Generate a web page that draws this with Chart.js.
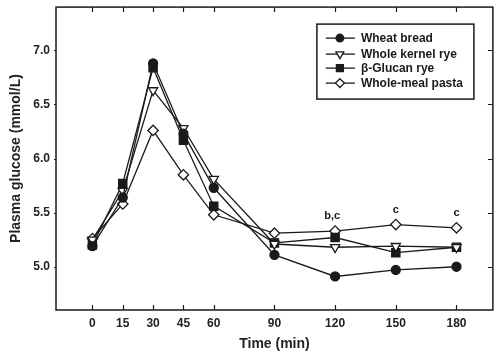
<!DOCTYPE html>
<html>
<head>
<meta charset="utf-8">
<script src="https://cdn.jsdelivr.net/npm/chart.js@4"></script>
<style>
html,body{margin:0;padding:0;background:#fff;}
#wrap{width:500px;height:357px;position:relative;}
</style>
</head>
<body>
<div id="wrap"><canvas id="c" width="500" height="357"></canvas></div>
<script>
// ---- data ----
const times = [0, 15, 30, 45, 60, 90, 120, 150, 180];
const wheatBread     = [5.19, 5.64, 6.88, 6.23, 5.73, 5.11, 4.91, 4.97, 5.00];
const wholeKernelRye = [5.25, 5.70, 6.63, 6.28, 5.81, 5.21, 5.18, 5.19, 5.18];
const betaGlucanRye  = [5.20, 5.77, 6.84, 6.17, 5.56, 5.22, 5.27, 5.13, 5.18];
const wholeMealPasta = [5.26, 5.58, 6.26, 5.85, 5.48, 5.31, 5.33, 5.39, 5.36];
const seriesNames = ['Wheat bread', 'Whole kernel rye', '\u03B2-Glucan rye', 'Whole-meal pasta'];
const xTickValues = [0, 15, 30, 45, 60, 90, 120, 150, 180];
const yTickValues = [5.0, 5.5, 6.0, 6.5, 7.0];
const sigTimes = [120, 150, 180];
const sigLabels = ['b,c', 'c', 'c'];

const FONT = "'Liberation Sans', Arial, sans-serif";
const INK = '#1a1a1a';

const styles = [
  {pointStyle:'circle', radius:4.5, fill:INK, rot:0},
  {pointStyle:'triangle', radius:5.3, fill:'#fff', rot:180},
  {pointStyle:'rect', radius:5.8, fill:INK, rot:0},
  {pointStyle:'rectRot', radius:5.2, fill:'#fff', rot:0}
];
const allSeries = [wheatBread, wholeKernelRye, betaGlucanRye, wholeMealPasta];

const datasets = allSeries.map((vals, i) => ({
  label: seriesNames[i],
  data: times.map((t, k) => ({x: t, y: vals[k]})),
  borderColor: INK,
  borderWidth: 1.3,
  backgroundColor: styles[i].fill,
  pointStyle: styles[i].pointStyle,
  pointRadius: styles[i].radius,
  pointHoverRadius: styles[i].radius,
  pointRotation: styles[i].rot,
  pointBorderColor: INK,
  pointBackgroundColor: styles[i].fill,
  pointBorderWidth: 1.3,
  tension: 0,
  fill: false,
  order: i
}));

function drawMarker(ctx, style, x, y) {
  ctx.save();
  ctx.lineWidth = 1.3;
  ctx.strokeStyle = INK;
  ctx.fillStyle = style.fill;
  const r = style.radius;
  ctx.beginPath();
  if (style.pointStyle === 'circle') {
    ctx.arc(x, y, r, 0, Math.PI * 2);
  } else if (style.pointStyle === 'triangle') {
    ctx.moveTo(x - r * 0.87, y - r * 0.5);
    ctx.lineTo(x + r * 0.87, y - r * 0.5);
    ctx.lineTo(x, y + r);
    ctx.closePath();
  } else if (style.pointStyle === 'rect') {
    const s = r * Math.SQRT1_2;
    ctx.rect(x - s, y - s, 2 * s, 2 * s);
  } else {
    ctx.moveTo(x, y - r); ctx.lineTo(x + r, y); ctx.lineTo(x, y + r); ctx.lineTo(x - r, y); ctx.closePath();
  }
  ctx.fill();
  ctx.stroke();
  ctx.restore();
}

const framePlugin = {
  id: 'frame',
  afterDatasetsDraw(chart) {
    const {ctx, chartArea: a, scales} = chart;
    const xs = scales.x, ys = scales.y;
    ctx.save();
    ctx.strokeStyle = INK;
    ctx.lineWidth = 1.5;
    ctx.strokeRect(a.left, a.top, a.right - a.left, a.bottom - a.top);
    ctx.lineWidth = 1.2;
    ctx.beginPath();
    xTickValues.forEach(v => {
      const px = Math.round(xs.getPixelForValue(v)) + 0.5;
      ctx.moveTo(px, a.bottom); ctx.lineTo(px, a.bottom - 5);
      ctx.moveTo(px, a.top); ctx.lineTo(px, a.top + 5);
    });
    yTickValues.forEach(v => {
      const py = Math.round(ys.getPixelForValue(v)) + 0.5;
      ctx.moveTo(a.right, py); ctx.lineTo(a.right - 5, py);
      ctx.moveTo(a.left, py); ctx.lineTo(a.left - 2, py);
    });
    ctx.stroke();

    // significance labels, placed above the highest point at that time
    ctx.fillStyle = INK;
    ctx.font = "bold 11px " + FONT;
    ctx.textAlign = 'center';
    ctx.textBaseline = 'middle';
    sigTimes.forEach((t, i) => {
      const k = times.indexOf(t);
      const top = Math.max(...allSeries.map(s => s[k]));
      const px = xs.getPixelForValue(t) - (sigLabels[i].length > 1 ? 3 : 0);
      const py = ys.getPixelForValue(top) - 15;
      ctx.fillText(sigLabels[i], px, py);
    });

    // legend box
    const bx = a.right - 176, by = a.top + 17, bw = 157, bh = 75;
    ctx.lineWidth = 1.5;
    ctx.fillStyle = '#fff';
    ctx.fillRect(bx, by, bw, bh);
    ctx.strokeRect(bx, by, bw, bh);
    ctx.font = "bold 12px " + FONT;
    ctx.textAlign = 'left';
    ctx.textBaseline = 'middle';
    const rowY = [14, 30, 44, 59];
    seriesNames.forEach((name, i) => {
      const y = by + rowY[i];
      ctx.lineWidth = 1.3;
      ctx.beginPath();
      ctx.moveTo(bx + 9, y); ctx.lineTo(bx + 38, y);
      ctx.stroke();
      const st = Object.assign({}, styles[i], {radius: styles[i].radius * 0.85});
      drawMarker(ctx, st, bx + 23, y);
      ctx.fillStyle = INK;
      ctx.fillText(name, bx + 44, y + 0.5);
    });
    ctx.restore();
  }
};

new Chart(document.getElementById('c'), {
  type: 'line',
  data: {datasets},
  options: {
    responsive: false,
    animation: false,
    events: [],
    layout: {padding: {left: 0, top: 3, right: 5, bottom: 0}},
    plugins: {legend: {display: false}, tooltip: {enabled: false}},
    scales: {
      x: {
        type: 'linear',
        min: -18, max: 198,
        afterBuildTicks: s => { s.ticks = xTickValues.map(v => ({value: v})); },
        afterFit: s => { s.height = 47; s.paddingLeft = 0; s.paddingRight = 0; },
        grid: {display: false, drawTicks: false},
        border: {display: false},
        ticks: {color: '#222', font: {family: FONT, size: 12, weight: 'bold'}, padding: 6, maxRotation: 0,
                callback: v => String(v)},
        title: {display: true, text: 'Time (min)', color: '#222',
                font: {family: FONT, size: 14, weight: 'bold'}, padding: {top: 0, bottom: 4}}
      },
      y: {
        type: 'linear',
        min: 4.6, max: 7.4,
        afterBuildTicks: s => { s.ticks = yTickValues.map(v => ({value: v})); },
        afterFit: s => { s.width = 56; s.paddingTop = 0; s.paddingBottom = 0; },
        grid: {display: false, drawTicks: false},
        border: {display: false},
        ticks: {color: '#222', font: {family: FONT, size: 12, weight: 'bold'}, padding: 6,
                callback: v => Number(v).toFixed(1)},
        title: {display: true, text: 'Plasma glucose (mmol/L)', color: '#222',
                font: {family: FONT, size: 14, weight: 'bold'}, padding: {top: 8, bottom: 0}}
      }
    }
  },
  plugins: [framePlugin]
});
</script>
</body>
</html>
